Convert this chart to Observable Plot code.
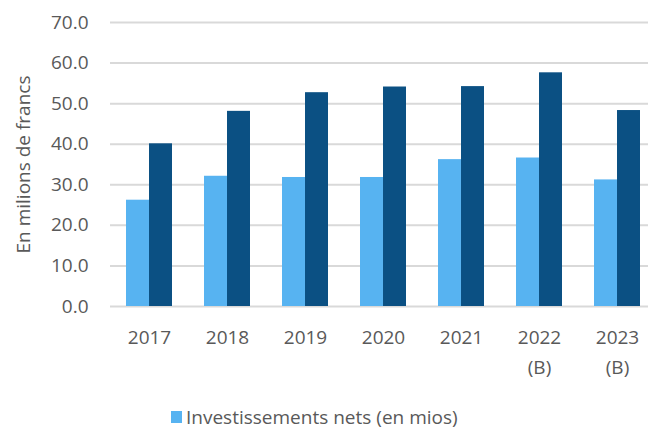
<!DOCTYPE html>
<html>
<head>
<meta charset="utf-8">
<script src="https://cdn.jsdelivr.net/npm/d3@7"></script>
<script src="https://cdn.jsdelivr.net/npm/@observablehq/plot@0.6"></script>
<style>
  html, body { margin: 0; padding: 0; background: #fff; }
  body { width: 648px; height: 429px; overflow: hidden; font-family: "Open Sans", sans-serif; }
  #legend { position: relative; height: 39px; font-size: 19px; color: #595959; }
  #legend .item { position: absolute; left: 171px; top: 14px; display: flex; align-items: center; white-space: nowrap; }
  #legend .sw { width: 11px; height: 12px; margin-right: 4px; }
</style>
</head>
<body>
<div id="chart"></div>
<div id="legend"></div>
<script>
const years = ["2017", "2018", "2019", "2020", "2021", "2022", "2023"];
const yearLabels = ["2017", "2018", "2019", "2020", "2021", "2022\n(B)", "2023\n(B)"];
const seriesNames = ["Investissements nets (en mios)", "Investissements bruts (en mios)"];
const investNets = [26.2, 32.1, 31.8, 31.8, 36.2, 36.6, 31.2];
const investBruts = [40.1, 48.1, 52.7, 54.1, 54.2, 57.6, 48.3];
const yTicks = [0, 10, 20, 30, 40, 50, 60, 70];
const colors = ["#57B3F1", "#0B5083"];

const netsData = years.map((y, i) => ({year: y, value: investNets[i]}));
const brutsData = years.map((y, i) => ({year: y, value: investBruts[i]}));
const labelOf = new Map(years.map((y, i) => [y, yearLabels[i]]));

const bandPaddingInner = 0.41, bandPaddingOuter = 0.205;
const plotLeft = 110, plotRight = -8, plotW = 648;
const step = (plotW - plotLeft - plotRight) / (years.length - bandPaddingInner + 2 * bandPaddingOuter);
const half = step * (1 - bandPaddingInner) / 2;

const chart = Plot.plot({
  width: plotW,
  height: 390,
  marginLeft: plotLeft,
  marginRight: plotRight,
  marginTop: 22,
  marginBottom: 84,
  style: {fontFamily: "Open Sans, sans-serif", fontSize: "19px", color: "#595959", background: "#fff"},
  x: {domain: years, paddingInner: bandPaddingInner, paddingOuter: bandPaddingOuter, label: null},
  y: {domain: [0, 70], ticks: yTicks, label: null},
  marks: [
    Plot.ruleY(yTicks, {stroke: "#d9d9d9", strokeWidth: 2}),
    Plot.barY(netsData, {x: "year", y: "value", fill: colors[0], insetRight: half}),
    Plot.barY(brutsData, {x: "year", y: "value", fill: colors[1], insetLeft: half}),
    Plot.axisY({ticks: yTicks, tickSize: 0, tickPadding: 22, tickFormat: d => d.toFixed(1), fill: "#595959",
      label: "En milions de francs", labelAnchor: "center", labelArrow: "none", labelOffset: 94}),
    Plot.axisX({anchor: "bottom", tickSize: 0, tickPadding: 16, tickFormat: d => labelOf.get(d), lineHeight: 1.58, fill: "#595959", label: null})
  ]
});
document.getElementById("chart").appendChild(chart);

const legend = document.getElementById("legend");
const item = document.createElement("div");
item.className = "item";
item.innerHTML = `<span class="sw" style="background:${colors[0]}"></span><span>${seriesNames[0]}</span>`;
legend.appendChild(item);
</script>
</body>
</html>
